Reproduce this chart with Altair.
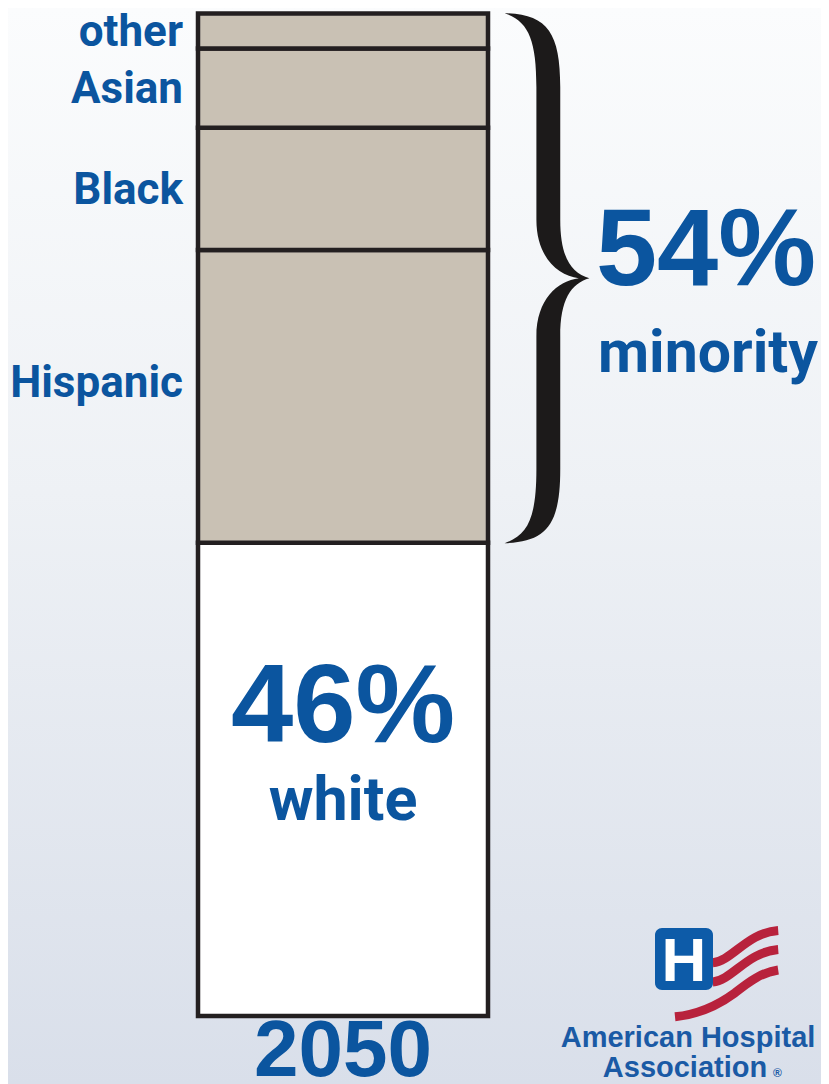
import altair as alt
import pandas as pd

# ---- data ----
groups = ["white", "Hispanic", "Black", "Asian", "other"]
shares = [47.2, 29.2, 12.2, 7.9, 3.5]          # height of each block (percent of bar)
kinds = ["majority", "minority", "minority", "minority", "minority"]
year = "2050"
headline_pcts = ["46%", "54%"]
headline_words = ["white", "minority"]
logo_lines = ["American Hospital", "Association"]

W, H = 813, 1076
BLUE = "#0b559f"
NARROW = "Roboto"
WIDE = "Liberation Sans"

rows = []
acc = 0.0
for g, v, k in zip(groups, shares, kinds):
    rows.append({"year": year, "group": g, "kind": k, "start": acc, "end": acc + v, "mid": acc + v / 2})
    acc += v
df = pd.DataFrame(rows)

yscale = alt.Scale(domain=[0, 100], range=[1008, 5.5])
xscale = alt.Scale(domain=[year], range=[190, 480], paddingInner=0, paddingOuter=0)

bg = alt.Chart(pd.DataFrame({"a": [0]})).mark_rect(
    fill=alt.LinearGradient(
        gradient="linear",
        stops=[alt.GradientStop(offset=0, color="#fbfcfd"),
               alt.GradientStop(offset=0.45, color="#eef1f5"),
               alt.GradientStop(offset=1, color="#d9dfea")],
        x1=0, x2=0, y1=0, y2=1)
).encode(x=alt.value(0), x2=alt.value(W), y=alt.value(0), y2=alt.value(H))

bars = alt.Chart(df).mark_bar(stroke="#231f20", strokeWidth=4.5).encode(
    x=alt.X("year:N", scale=xscale, axis=None),
    y=alt.Y("start:Q", scale=yscale, axis=None),
    y2="end:Q",
    color=alt.Color("kind:N", scale=alt.Scale(domain=["majority", "minority"],
                                              range=["#ffffff", "#c9c1b4"]), legend=None),
)

labels = alt.Chart(df).mark_text(
    align="right", baseline="middle", font=NARROW, fontWeight="bold", fontSize=44, color=BLUE, dy=2
).transform_filter(
    "datum.kind == 'minority' && datum.group != 'Hispanic'"
).encode(x=alt.value(175), y=alt.Y("mid:Q", scale=yscale), text="group:N")
label_hisp = alt.Chart(df).mark_text(
    align="right", baseline="middle", font=NARROW, fontWeight="bold", fontSize=44, color=BLUE, dy=-12
).transform_filter("datum.group == 'Hispanic'").encode(
    x=alt.value(175), y=alt.Y("mid:Q", scale=yscale), text="group:N")

BRACE = ("M -0.16 -1 C 0.0 -0.995 0.05 -0.93 0.05 -0.72 L 0.05 -0.22 "
         "C 0.05 -0.08 0.09 -0.02 0.16 0 "
         "C 0.09 0.02 0.05 0.08 0.05 0.22 L 0.05 0.72 "
         "C 0.05 0.93 0.0 0.995 -0.16 1 "
         "C -0.07 0.97 -0.04 0.9 -0.04 0.72 L -0.04 0.22 "
         "C -0.04 0.08 0.04 0.01 0.12 0 "
         "C 0.04 -0.01 -0.04 -0.08 -0.04 -0.22 L -0.04 -0.72 "
         "C -0.04 -0.9 -0.07 -0.97 -0.16 -1 Z")

brace = alt.Chart(df).transform_filter("datum.kind == 'minority'").transform_aggregate(
    lo="min(start)", hi="max(end)"
).transform_calculate(mid="(datum.lo + datum.hi) / 2").mark_point(
    shape=BRACE, filled=True, color="#1c1a1a", opacity=1, size=530 * 530, strokeWidth=0
).encode(x=alt.value(539), y=alt.Y("mid:Q", scale=yscale))

ann = pd.DataFrame({"year": [year]})
pct54 = alt.Chart(ann).mark_text(font=WIDE, fontWeight="bold", fontSize=110, color=BLUE,
                                 baseline="alphabetic").encode(
    x=alt.value(698), y=alt.value(277), text=alt.value(headline_pcts[1]))
word54 = alt.Chart(ann).mark_text(font=NARROW, fontWeight="bold", fontSize=59, color=BLUE,
                                  baseline="alphabetic").encode(
    x=alt.value(700), y=alt.value(364), text=alt.value(headline_words[1]))
pct46 = alt.Chart(ann).mark_text(font=WIDE, fontWeight="bold", fontSize=112, color=BLUE,
                                 baseline="alphabetic").encode(
    x=alt.X("year:N", scale=xscale), y=alt.value(734), text=alt.value(headline_pcts[0]))
word46 = alt.Chart(ann).mark_text(font=NARROW, fontWeight="bold", fontSize=61, color=BLUE,
                                  baseline="alphabetic").encode(
    x=alt.X("year:N", scale=xscale), y=alt.value(812), text=alt.value(headline_words[0]))
yr = alt.Chart(ann).mark_text(font=WIDE, fontWeight="bold", fontSize=80, color=BLUE,
                              baseline="alphabetic").encode(
    x=alt.X("year:N", scale=xscale), y=alt.value(1068), text="year:N")

# ---- logo ----
STRIPES = ("M -0.12 -0.12 C 0.2 -0.15 0.45 -0.62 0.97 -0.66 "
           "M -0.12 0.2 C 0.2 0.17 0.45 -0.3 0.97 -0.34 "
           "M -0.75 0.78 C -0.35 0.74 -0.05 0.6 0.25 0.38 C 0.5 0.18 0.7 0.04 0.97 0.0")
stripes = alt.Chart(ann).mark_point(shape=STRIPES, filled=False, stroke="#b8223c", strokeWidth=9,
                                    size=120 * 120, opacity=1).encode(
    x=alt.value(712), y=alt.value(962))
hbox = alt.Chart(ann).mark_rect(fill="#0d5ba8", cornerRadius=7).encode(
    x=alt.value(647), x2=alt.value(705), y=alt.value(920), y2=alt.value(982))
hletter = alt.Chart(ann).mark_text(font=WIDE, fontWeight="bold", fontSize=62, color="white",
                                   baseline="alphabetic").encode(
    x=alt.value(676), y=alt.value(973), text=alt.value("H"))
logo1 = alt.Chart(ann).mark_text(font=WIDE, fontWeight="bold", fontSize=29, color="#1a5aa5",
                                 baseline="alphabetic").encode(
    x=alt.value(680), y=alt.value(1039), text=alt.value(logo_lines[0]))
logo2 = alt.Chart(ann).mark_text(font=WIDE, fontWeight="bold", fontSize=29, color="#1a5aa5",
                                 baseline="alphabetic").encode(
    x=alt.value(677), y=alt.value(1069), text=alt.value(logo_lines[1]))
reg = alt.Chart(ann).mark_text(font=WIDE, fontWeight="bold", fontSize=12, color="#1a5aa5",
                               baseline="alphabetic", align="left").encode(
    x=alt.value(765), y=alt.value(1069), text=alt.value("®"))

chart = alt.layer(
    bg, bars, labels, label_hisp, brace, pct54, word54, pct46, word46, yr,
    stripes, hbox, hletter, logo1, logo2, reg
).properties(
    width=W, height=H, autosize="none", padding=0
).configure_view(strokeWidth=0)

chart.save("out.html", embed_options={"renderer": "svg", "actions": False})
